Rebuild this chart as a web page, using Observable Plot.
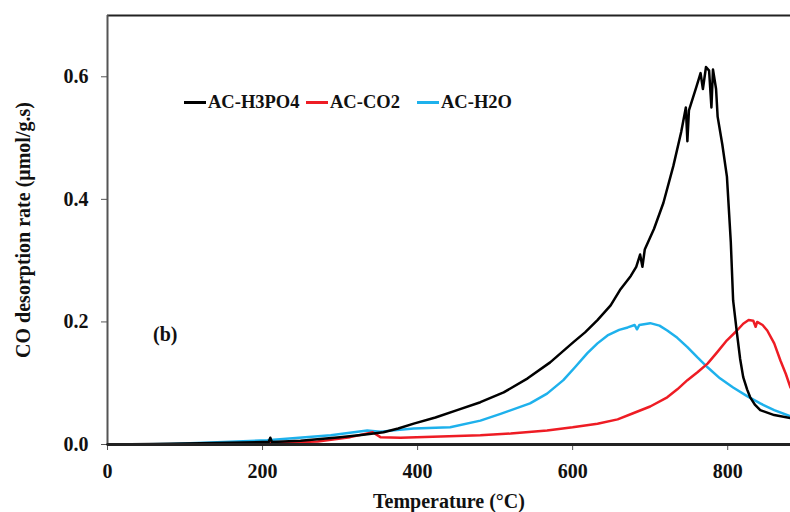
<!DOCTYPE html>
<html>
<head>
<meta charset="utf-8">
<script src="https://cdn.jsdelivr.net/npm/d3@7"></script>
<script src="https://cdn.jsdelivr.net/npm/@observablehq/plot@0.6"></script>
<style>
  body { margin: 0; background: #fff; }
  #wrap { position: relative; width: 790px; height: 512px; font-family: "Liberation Serif", "Times New Roman", serif; font-weight: bold; }
  .item { position: absolute; top: 91px; height: 22px; display: flex; align-items: center; font-size: 18.5px; color: #111; white-space: nowrap; }
  .item .sw { display: inline-block; width: 22px; height: 3px; margin-right: 2px; }
  .tag { position: absolute; left: 153px; top: 323px; font-size: 20px; color: #111; }
</style>
</head>
<body>
<div id="wrap"></div>
<script>
// ---- data ----
const seriesNames = ["AC-H3PO4", "AC-CO2", "AC-H2O"];
const seriesColors = ["#000000", "#ee1c24", "#1eb1ec"];

const h3po4T = [0, 60, 120, 200, 208, 210, 212, 249, 300, 330, 356, 375, 395, 423, 451, 481, 511, 542, 571, 601, 616, 632, 649, 661, 675, 682, 687, 690, 693, 705, 717, 730, 740, 746, 748, 750, 760, 765, 768, 772, 776, 779, 781, 785, 787, 793, 799, 804, 807, 812, 816, 820, 825, 829, 835, 842, 860, 881];
const h3po4V = [0, 0.001, 0.002, 0.004, 0.004, 0.011, 0.004, 0.006, 0.012, 0.016, 0.020, 0.026, 0.034, 0.044, 0.056, 0.069, 0.085, 0.108, 0.134, 0.167, 0.183, 0.203, 0.227, 0.252, 0.275, 0.290, 0.310, 0.290, 0.318, 0.352, 0.394, 0.455, 0.510, 0.550, 0.495, 0.545, 0.585, 0.606, 0.580, 0.616, 0.610, 0.550, 0.612, 0.580, 0.535, 0.490, 0.437, 0.330, 0.235, 0.181, 0.140, 0.110, 0.090, 0.077, 0.065, 0.056, 0.048, 0.043];

const co2T = [81, 150, 200, 271, 313, 335, 342, 352, 378, 430, 481, 520, 567, 600, 632, 658, 678, 700, 722, 735, 748, 761, 774, 786, 799, 812, 820, 827, 833, 836, 838, 845, 851, 860, 868, 875, 881];
const co2V = [0, 0.001, 0.002, 0.005, 0.012, 0.018, 0.020, 0.012, 0.011, 0.013, 0.015, 0.018, 0.023, 0.028, 0.034, 0.041, 0.051, 0.062, 0.077, 0.090, 0.105, 0.118, 0.132, 0.150, 0.170, 0.186, 0.197, 0.203, 0.202, 0.192, 0.200, 0.195, 0.186, 0.165, 0.137, 0.115, 0.093];

const h2oT = [23, 81, 150, 206, 288, 335, 352, 395, 442, 481, 507, 545, 567, 588, 603, 619, 632, 645, 660, 671, 680, 683, 686, 700, 712, 722, 735, 748, 761, 774, 790, 807, 825, 842, 860, 881];
const h2oV = [0, 0.001, 0.004, 0.007, 0.015, 0.023, 0.021, 0.026, 0.028, 0.039, 0.050, 0.067, 0.083, 0.105, 0.126, 0.149, 0.165, 0.178, 0.187, 0.191, 0.195, 0.188, 0.195, 0.198, 0.194, 0.186, 0.174, 0.159, 0.142, 0.126, 0.108, 0.093, 0.079, 0.067, 0.056, 0.046];

const xTicks = [0, 200, 400, 600, 800];
const yTicks = [0, 0.2, 0.4, 0.6];
const xTitle = "Temperature (°C)";
const yTitle = "CO desorption rate (μmol/g.s)";
const panelTag = "(b)";

// ---- build tables ----
const toRows = (T, V, s) => T.map((t, i) => ({T: t, v: V[i], s}));
const h3po4 = toRows(h3po4T, h3po4V, seriesNames[0]);
const co2 = toRows(co2T, co2V, seriesNames[1]);
const h2o = toRows(h2oT, h2oV, seriesNames[2]);

const chart = Plot.plot({
  width: 790,
  height: 512,
  marginLeft: 107,
  marginRight: 0,
  marginTop: 15,
  marginBottom: 68,
  style: {fontFamily: "'Liberation Serif', 'Times New Roman', serif", fontWeight: "bold", fontSize: "20px", color: "#111", background: "#fff", overflow: "visible"},
  x: {domain: [0, 881]},
  y: {domain: [0, 0.7]},
  color: {domain: seriesNames, range: seriesColors},
  marks: [
    Plot.axisX({ticks: xTicks, tickSize: 6, tickPadding: 13, label: xTitle, labelAnchor: "center", labelOffset: 63, labelArrow: "none", stroke: "#555"}),
    Plot.axisY({ticks: yTicks, tickFormat: ".1f", tickSize: 6, tickPadding: 13, label: yTitle, labelAnchor: "center", labelOffset: 92, labelArrow: "none", stroke: "#555"}),
    Plot.ruleY([0.7], {stroke: "#222", strokeWidth: 2}),
    Plot.ruleX([0], {stroke: "#555", strokeWidth: 2}),
    Plot.line(h2o, {x: "T", y: "v", stroke: "s", strokeWidth: 2.5}),
    Plot.line(co2, {x: "T", y: "v", stroke: "s", strokeWidth: 2.5}),
    Plot.line(h3po4, {x: "T", y: "v", stroke: "s", strokeWidth: 2.5}),
    Plot.ruleY([0], {stroke: "#222", strokeWidth: 3})
  ]
});

const wrap = document.getElementById("wrap");
wrap.appendChild(chart);

// legend (HTML, placed over the plot like the reference)
const legendLeft = [184, 306, 417];
seriesNames.forEach((n, i) => {
  const it = document.createElement("div");
  it.className = "item";
  it.style.left = legendLeft[i] + "px";
  const sw = document.createElement("span");
  sw.className = "sw";
  sw.style.background = seriesColors[i];
  it.appendChild(sw);
  it.appendChild(document.createTextNode(n));
  wrap.appendChild(it);
});

const tag = document.createElement("div");
tag.className = "tag";
tag.textContent = panelTag;
wrap.appendChild(tag);
</script>
</body>
</html>
